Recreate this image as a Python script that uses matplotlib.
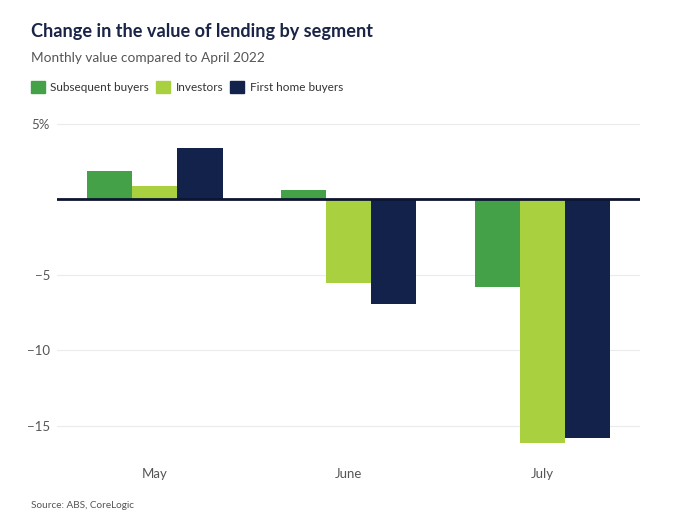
import matplotlib.pyplot as plt
import matplotlib.patches as mpatches
import numpy as np

plt.rcParams['font.family'] = ['Lato', 'DejaVu Sans']

months = ['May', 'June', 'July']
series_names = ['Subsequent buyers', 'Investors', 'First home buyers']
subsequent = [1.9, 0.6, -5.8]
investors = [0.9, -5.5, -16.1]
first_home = [3.4, -6.9, -15.8]
yticks = [5, 0, -5, -10, -15]
ytick_labels = ['5%', '', '\u22125', '\u221210', '\u221215']

colors = ['#45a148', '#a9d13f', '#13224a']
values = [subsequent, investors, first_home]

fig = plt.figure(figsize=(6.84, 5.25), dpi=100)
ax = fig.add_axes([0.0833, 0.1455, 0.853, 0.627])

x = np.arange(len(months))
w = 0.233
for i, (vals, c) in enumerate(zip(values, colors)):
    ax.bar(x + (i - 1) * w, vals, width=w, color=c, zorder=3)

ax.axhline(0, color='#0d1530', lw=2, zorder=4)
ax.set_xlim(-0.505, 2.505)
ax.set_ylim(-16.5, 5.3)
ax.set_yticks(yticks)
ax.set_yticklabels(ytick_labels)
ax.set_xticks(x)
ax.set_xticklabels(months)
ax.grid(axis='y', color='#ebebeb', lw=0.8, zorder=0)
for s in ax.spines.values():
    s.set_visible(False)
ax.tick_params(axis='both', length=0, labelsize=9.5, colors='#555555')
ax.tick_params(axis='y', pad=5)
ax.tick_params(axis='x', pad=14)

fig.text(0.045, 0.94, 'Change in the value of lending by segment', fontsize=13.1,
         fontweight='bold', color='#1a2447', va='center')
fig.text(0.045, 0.889, 'Monthly value compared to April 2022', fontsize=9.8,
         color='#555555', va='center')
fig.text(0.045, 0.038, 'Source: ABS, CoreLogic', fontsize=7.2,
         color='#555555', va='center')

handles = [mpatches.Patch(color=c, label=n) for c, n in zip(colors, series_names)]
fig.legend(handles=handles, loc='center left', bbox_to_anchor=(0.045, 0.835),
           ncol=3, frameon=False, fontsize=8.5, handlelength=1.2, handleheight=1.2,
           handletextpad=0.45, columnspacing=0.6, labelcolor='#333333',
           borderaxespad=0, borderpad=0)

fig.savefig('out.png', dpi=100)
